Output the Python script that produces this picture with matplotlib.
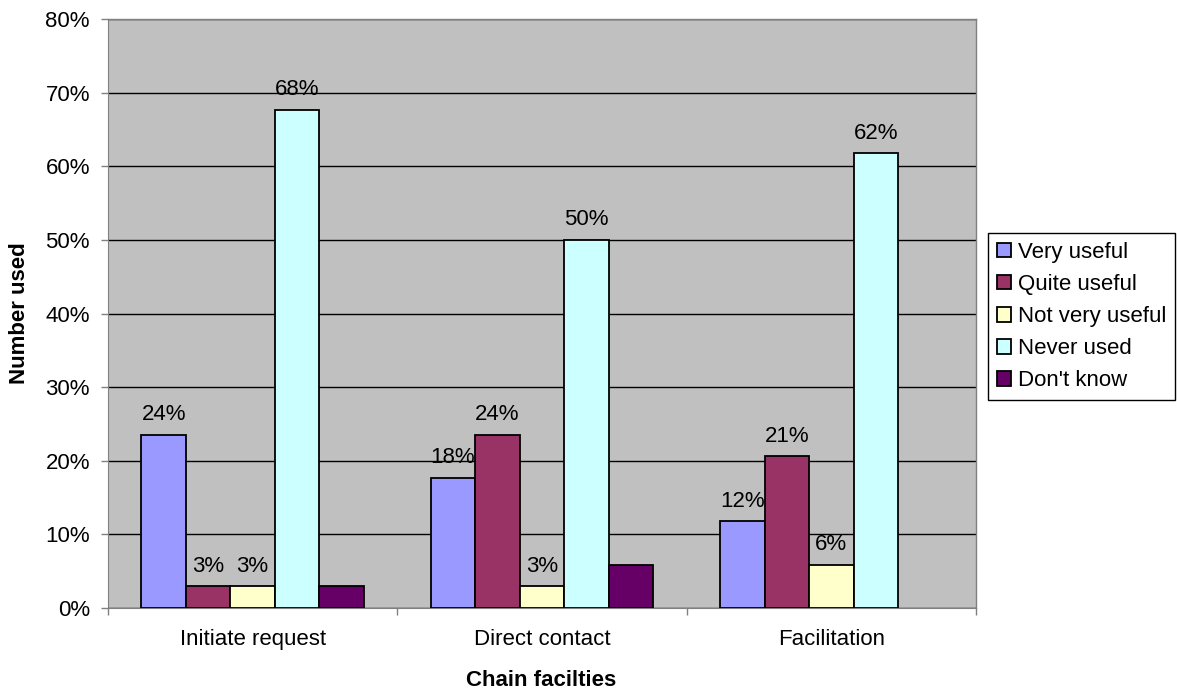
import matplotlib
matplotlib.use("Agg")
import matplotlib.pyplot as plt
import numpy as np

plt.rcParams['font.family'] = ['Liberation Sans', 'DejaVu Sans']

categories = ["Initiate request", "Direct contact", "Facilitation"]
series_names = ["Very useful", "Quite useful", "Not very useful", "Never used", "Don't know"]
very_useful = [23.53, 17.65, 11.76]
quite_useful = [2.94, 23.53, 20.59]
not_very_useful = [2.94, 2.94, 5.88]
never_used = [67.65, 50.00, 61.76]
dont_know = [2.94, 5.88, 0.0]
series_values = [very_useful, quite_useful, not_very_useful, never_used, dont_know]
show_labels = [True, True, True, True, False]
colors = ["#9999FF", "#993366", "#FFFFCC", "#CCFFFF", "#660066"]
yticks = [0, 10, 20, 30, 40, 50, 60, 70, 80]

FS = 16
W, H = 1177, 691
fig = plt.figure(figsize=(W/100, H/100), dpi=100)
ax = fig.add_axes([108/W, 1-608/H, (976-108)/W, (608-19)/H])
ax.set_facecolor("#C0C0C0")

w = 1/6.5
x = np.arange(len(categories)) + 0.5
for i, (name, vals, col, lab) in enumerate(zip(series_names, series_values, colors, show_labels)):
    pos = x - 2.5*w + (i+0.5)*w
    bars = ax.bar(pos, vals, width=w, color=col, edgecolor="black", linewidth=1.3, label=name, zorder=3)
    for b, v in zip(bars, vals):
        if v <= 0:
            b.set_visible(False)
        elif lab:
            ax.annotate(f"{v:.0f}%", (b.get_x()+b.get_width()/2, v), xytext=(0, 7),
                        textcoords="offset points", ha="center", va="bottom", fontsize=FS, zorder=4)

ax.set_xlim(0, 3)
ax.set_ylim(0, 80)
ax.set_yticks(yticks)
ax.set_yticklabels([f"{t}%" for t in yticks], fontsize=FS)
ax.yaxis.grid(True, color="black", linewidth=1, zorder=1)
ax.set_axisbelow(True)
ax.set_xticks([0, 1, 2, 3])
ax.set_xticklabels([])
ax.set_xticks(x, minor=True)
ax.set_xticklabels(categories, minor=True, fontsize=FS)
ax.tick_params(axis='x', which='minor', length=0, pad=15)
ax.tick_params(axis='x', which='major', length=5, width=1, direction='out', color="#808080")
ax.tick_params(axis='y', length=5, width=1, direction='out', color="#808080", pad=8)
for s in ["top", "right"]:
    ax.spines[s].set_visible(False)
ax.spines["left"].set_color("#808080")
ax.spines["bottom"].set_color("#808080")
ax.plot([0, 3], [80, 80], color="#808080", lw=1, clip_on=False, zorder=2)
ax.plot([3, 3], [0, 80], color="#808080", lw=1, clip_on=False, zorder=2)

ax.set_ylabel("Number used", fontsize=FS, fontweight="bold")
ax.yaxis.set_label_coords(20/W, 1-313/H, transform=fig.transFigure)
ax.set_xlabel("Chain facilties", fontsize=FS, fontweight="bold")
ax.xaxis.set_label_coords(541/W, 1-680/H, transform=fig.transFigure)
ax.xaxis.label.set_va("center")
ax.yaxis.label.set_va("center")

leg = ax.legend(loc="upper left", bbox_to_anchor=(988/W, 1-233/H), bbox_transform=fig.transFigure,
                fontsize=FS, frameon=True, fancybox=False, edgecolor="black", framealpha=1,
                handlelength=0.63, handleheight=0.63, handletextpad=0.3, labelspacing=0.5,
                borderpad=0.4, borderaxespad=0)
leg.get_frame().set_linewidth(1)

fig.savefig("out.png", dpi=100, facecolor="white")
